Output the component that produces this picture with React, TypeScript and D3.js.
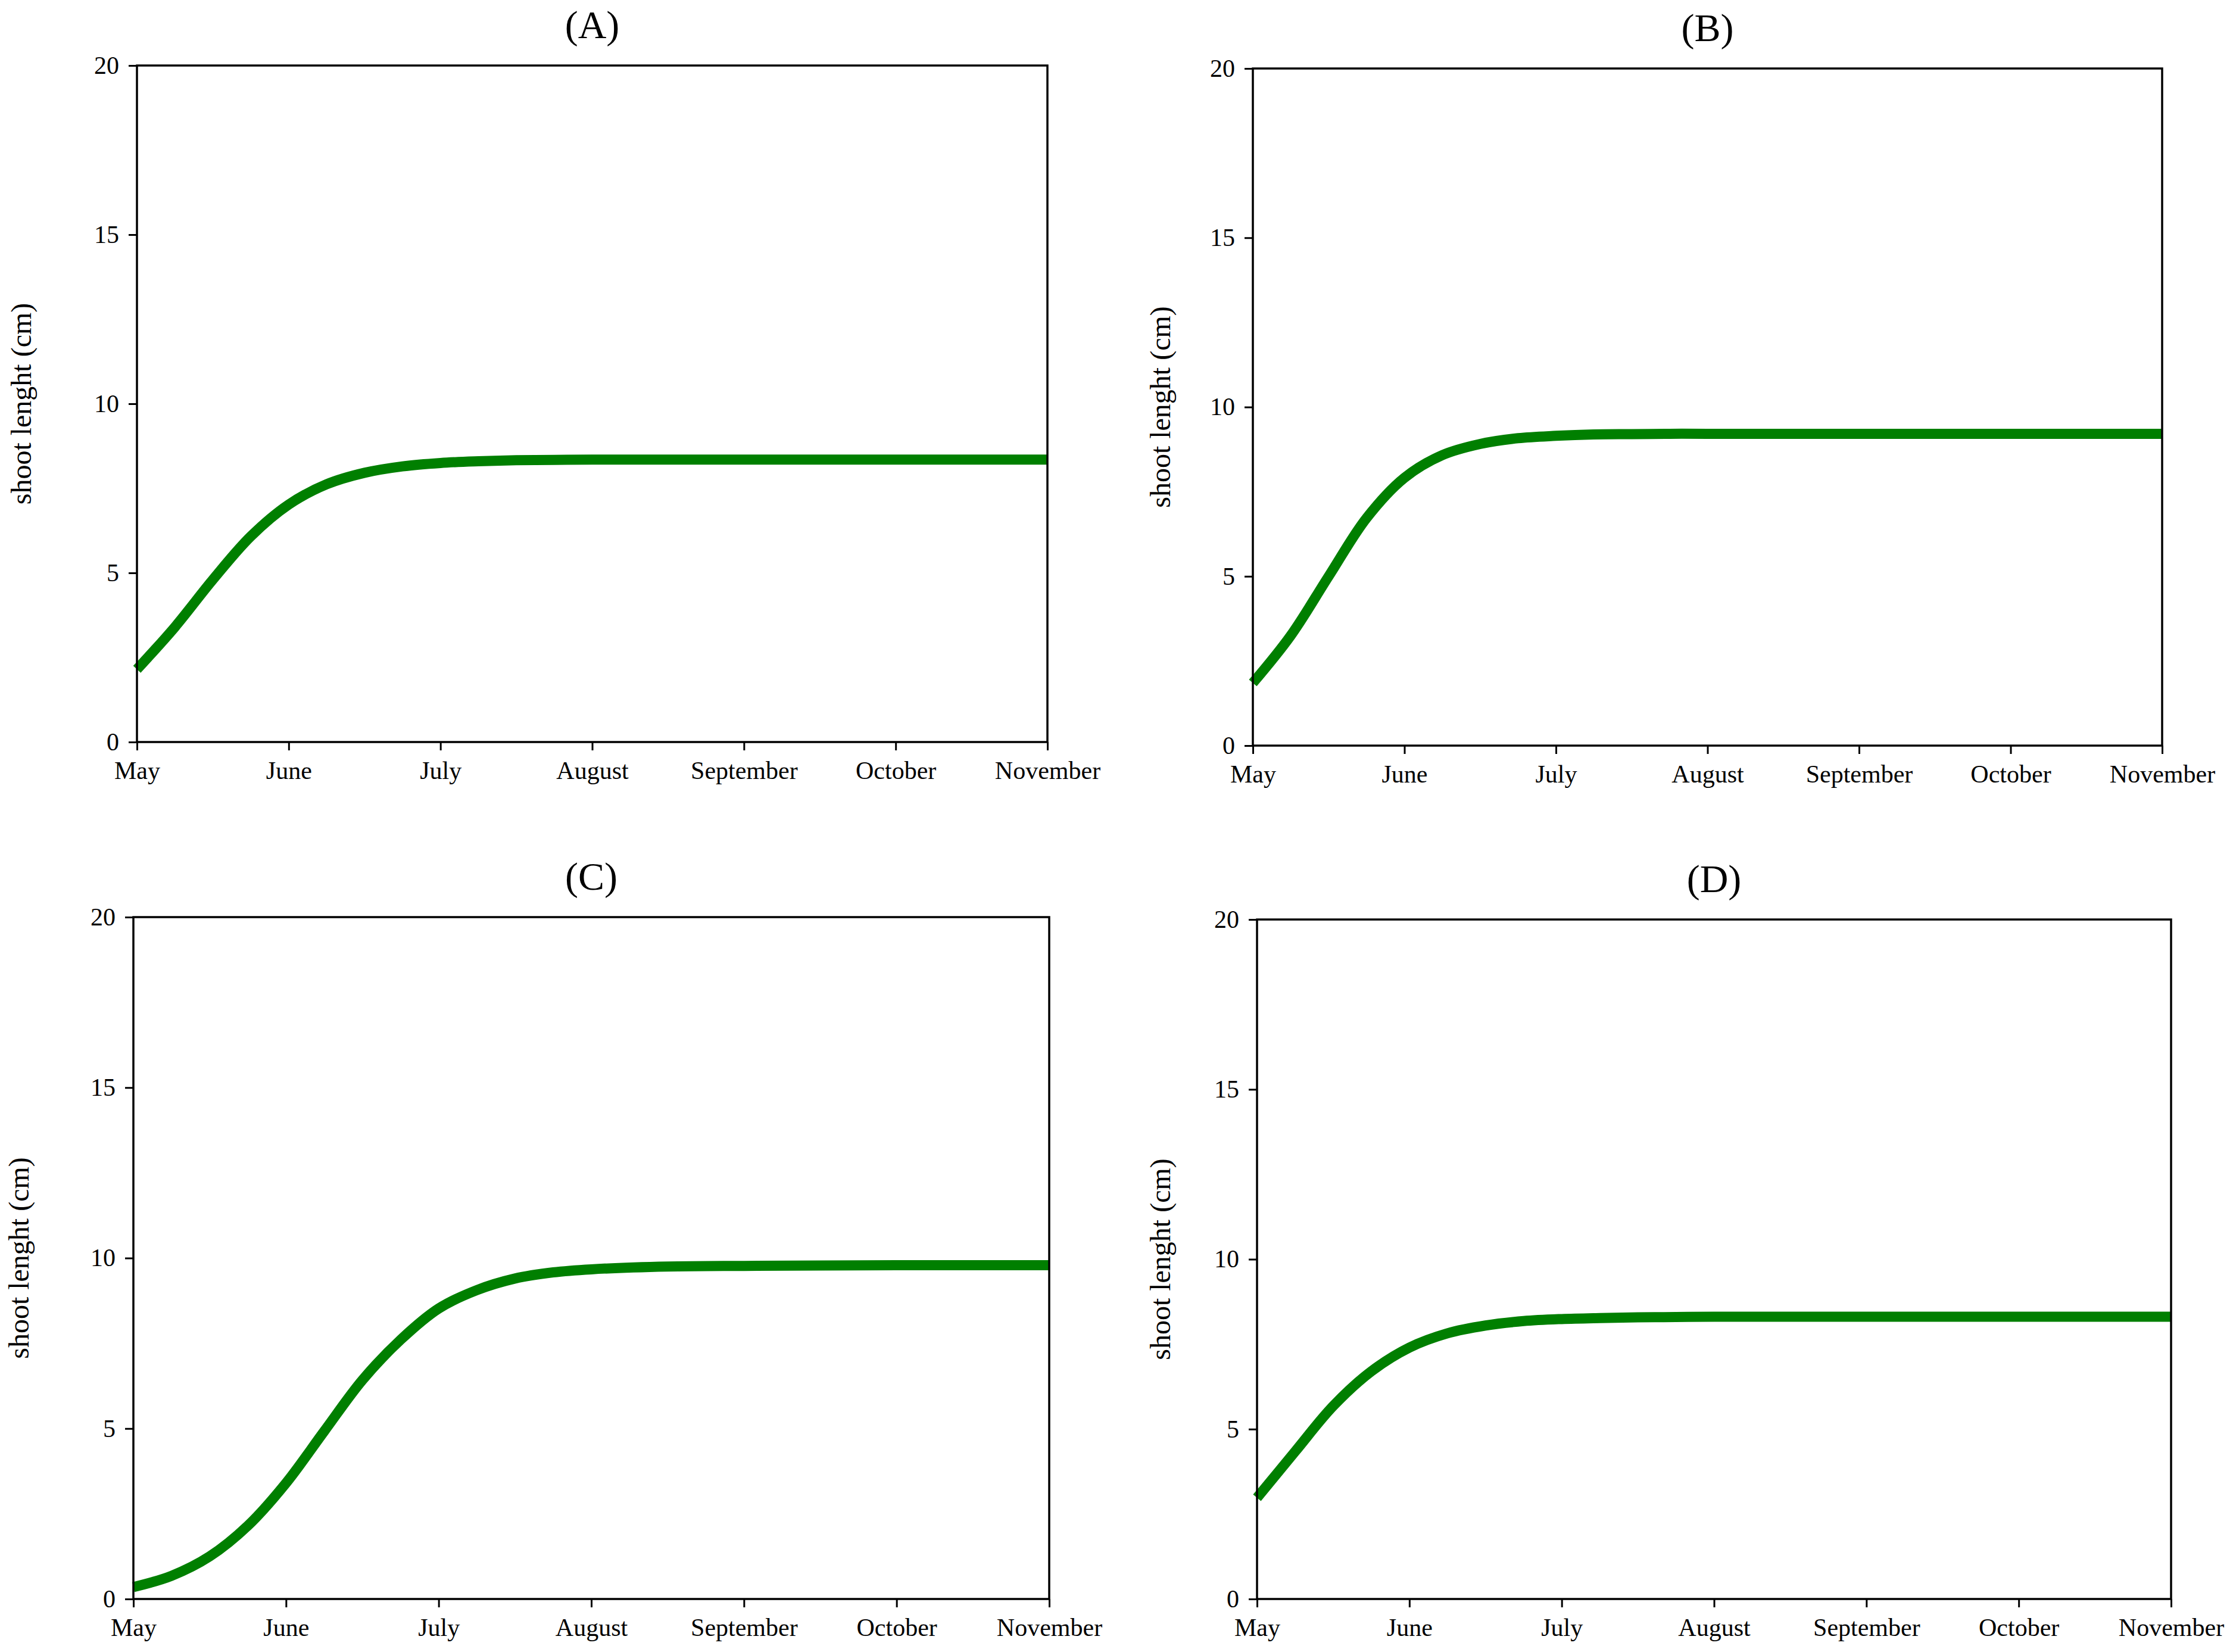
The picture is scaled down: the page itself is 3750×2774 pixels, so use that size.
import React, { useEffect, useRef } from 'react';
import * as d3 from 'd3';

const months = ['May', 'June', 'July', 'August', 'September', 'October', 'November'];
const yTicks = [0, 5, 10, 15, 20];
const panelTitles = ['(A)', '(B)', '(C)', '(D)'];
const yLabel = 'shoot lenght (cm)';

// months since 1 May
const timePoints = [0, 0.25, 0.5, 0.75, 1, 1.25, 1.5, 1.75, 2, 2.25, 2.5, 2.75, 3, 3.5, 4, 4.5, 5, 5.5, 6];
const seriesA = [2.15, 3.4, 4.8, 6.08, 7.02, 7.62, 7.96, 8.15, 8.25, 8.3, 8.33, 8.34, 8.35, 8.35, 8.35, 8.35, 8.35, 8.35, 8.35];
const seriesB = [1.85, 3.25, 5.0, 6.72, 7.91, 8.58, 8.91, 9.08, 9.15, 9.19, 9.2, 9.21, 9.21, 9.21, 9.21, 9.21, 9.21, 9.21, 9.21];
const seriesC = [0.35, 0.68, 1.25, 2.15, 3.4, 4.92, 6.42, 7.6, 8.52, 9.06, 9.4, 9.58, 9.67, 9.75, 9.77, 9.78, 9.79, 9.79, 9.79];
const seriesD = [2.98, 4.34, 5.68, 6.7, 7.4, 7.82, 8.05, 8.18, 8.24, 8.27, 8.29, 8.3, 8.31, 8.31, 8.31, 8.31, 8.31, 8.31, 8.31];

const allSeries = [seriesA, seriesB, seriesC, seriesD];

// plot boxes in page pixels
const panels = [
  { left: 230, right: 1759, top: 110, bottom: 1246, labelX: 52 },
  { left: 2104, right: 3631, top: 115, bottom: 1252, labelX: 1965 },
  { left: 224, right: 1762, top: 1540, bottom: 2685, labelX: 48 },
  { left: 2111, right: 3646, top: 1544, bottom: 2685, labelX: 1965 },
];

const WIDTH = 3750;
const HEIGHT = 2774;
const FONT = '"Liberation Serif", "Times New Roman", serif';

export default function App() {
  const svgRef = useRef<SVGSVGElement>(null);

  useEffect(() => {
    if (!svgRef.current) return;
    const svg = d3.select(svgRef.current);
    svg.selectAll('*').remove();

    svg.append('rect').attr('width', WIDTH).attr('height', HEIGHT).attr('fill', 'white');

    panels.forEach((p, i) => {
      const x = d3.scaleLinear().domain([0, months.length - 1]).range([p.left, p.right]);
      const y = d3.scaleLinear().domain([0, 20]).range([p.bottom, p.top]);
      const g = svg.append('g').style('font-family', FONT);

      // x axis
      const xAxis = d3
        .axisBottom(x)
        .tickValues(d3.range(months.length))
        .tickFormat((d: any) => months[d])
        .tickSize(14)
        .tickPadding(18);
      const gx = g.append('g').attr('transform', `translate(0,${p.bottom})`).call(xAxis as any);
      gx.select('.domain').remove();
      gx.selectAll('line').attr('stroke', 'black').attr('stroke-width', 3);
      gx.selectAll('text').attr('font-size', 42).attr('fill', 'black').attr('font-family', FONT);

      // y axis
      const yAxis = d3.axisLeft(y).tickValues(yTicks).tickSize(14).tickPadding(16);
      const gy = g.append('g').attr('transform', `translate(${p.left},0)`).call(yAxis as any);
      gy.select('.domain').remove();
      gy.selectAll('line').attr('stroke', 'black').attr('stroke-width', 3);
      gy.selectAll('text').attr('font-size', 42).attr('fill', 'black').attr('font-family', FONT);

      // curve
      const line = d3
        .line<number>()
        .x((_, k) => x(timePoints[k]))
        .y(d => y(d))
        .curve(d3.curveCatmullRom.alpha(0.5));
      g.append('path')
        .datum(allSeries[i])
        .attr('d', line)
        .attr('fill', 'none')
        .attr('stroke', '#007f00')
        .attr('stroke-width', 17);

      // frame
      g.append('rect')
        .attr('x', p.left)
        .attr('y', p.top)
        .attr('width', p.right - p.left)
        .attr('height', p.bottom - p.top)
        .attr('fill', 'none')
        .attr('stroke', 'black')
        .attr('stroke-width', 3.5);

      // title
      g.append('text')
        .attr('x', (p.left + p.right) / 2)
        .attr('y', p.top - 46)
        .attr('text-anchor', 'middle')
        .attr('font-size', 66)
        .text(panelTitles[i]);

      // y label
      g.append('text')
        .attr('transform', `translate(${p.labelX},${(p.top + p.bottom) / 2}) rotate(-90)`)
        .attr('text-anchor', 'middle')
        .attr('font-size', 48)
        .text(yLabel);
    });
  }, []);

  return (
    <svg
      ref={svgRef}
      width={WIDTH}
      height={HEIGHT}
      style={{ position: 'absolute', left: 0, top: 0, display: 'block' }}
    ></svg>
  );
}
